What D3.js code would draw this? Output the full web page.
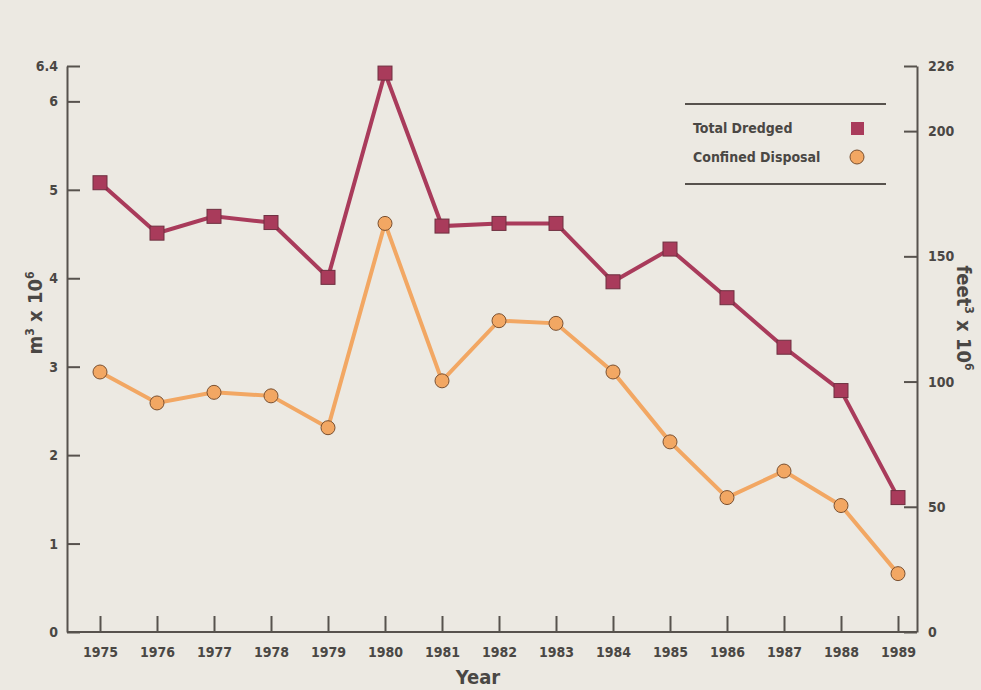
<!DOCTYPE html>
<html>
<head>
<meta charset="utf-8">
<script src="https://cdn.jsdelivr.net/npm/d3@7"></script>
<style>
  html, body { margin: 0; padding: 0; background: #ece9e2; }
  svg text { font-family: "Liberation Sans Narrow", "DejaVu Sans Condensed", "DejaVu Sans", sans-serif; font-stretch: condensed; font-weight: bold; fill: #4a4744; }
</style>
</head>
<body>
<div id="chart"></div>
<script>
const years = [1975, 1976, 1977, 1978, 1979, 1980, 1981, 1982, 1983, 1984, 1985, 1986, 1987, 1988, 1989];
const totalDredged = [5.08, 4.51, 4.70, 4.63, 4.01, 6.32, 4.59, 4.62, 4.62, 3.96, 4.33, 3.78, 3.22, 2.73, 1.52];
const confinedDisposal = [2.94, 2.59, 2.71, 2.67, 2.31, 4.62, 2.84, 3.52, 3.49, 2.94, 2.15, 1.52, 1.82, 1.43, 0.66];
const leftTicks = [0, 1, 2, 3, 4, 5, 6, 6.4];
const rightTicks = [0, 50, 100, 150, 200, 226];
const seriesNames = ['Total Dredged', 'Confined Disposal'];

const width = 981, height = 690;
const axisColor = '#57524d';
const red = '#a93b5b', orange = '#f2a763';

const svg = d3.select('#chart').append('svg').attr('width', width).attr('height', height);
svg.append('rect').attr('width', width).attr('height', height).attr('fill', '#ece9e2');

const x = d3.scaleLinear().domain([1975, 1989]).range([100, 898]);
const y = d3.scaleLinear().domain([0, 6.4]).range([632, 66]);
const y2 = d3.scaleLinear().domain([0, 226]).range([632, 66]);

// bottom axis (ticks point up)
const xAxis = d3.axisBottom(x).tickValues(years).tickFormat(d3.format('d')).tickSizeInner(-16).tickSizeOuter(0).tickPadding(15);
const gx = svg.append('g').attr('transform', 'translate(0,632)').call(xAxis);
gx.select('.domain').attr('d', 'M67,0H917');

// left axis (ticks point right)
const yAxis = d3.axisLeft(y).tickValues(leftTicks).tickFormat(d => d === 6.4 ? '6.4' : d).tickSizeInner(-13).tickSizeOuter(0).tickPadding(9);
const gy = svg.append('g').attr('transform', 'translate(67,0)').call(yAxis);

// right axis (ticks point left)
const yAxis2 = d3.axisRight(y2).tickValues(rightTicks).tickSizeInner(-13).tickSizeOuter(0).tickPadding(11);
const gy2 = svg.append('g').attr('transform', 'translate(917,0)').call(yAxis2);

[gx, gy, gy2].forEach(g => {
  g.selectAll('.domain').attr('stroke', axisColor).attr('stroke-width', 2);
  g.selectAll('.tick line').attr('stroke', axisColor).attr('stroke-width', 2);
  g.selectAll('.tick text').attr('font-size', 14).style('fill', '#4a4744');
});

// lines
const line = d3.line().x((d, i) => x(years[i])).y(d => y(d));
svg.append('path').datum(confinedDisposal).attr('d', line)
  .attr('fill', 'none').attr('stroke', orange).attr('stroke-width', 4);
svg.append('path').datum(totalDredged).attr('d', line)
  .attr('fill', 'none').attr('stroke', red).attr('stroke-width', 4);

// markers
svg.selectAll('.sq').data(totalDredged).enter().append('rect')
  .attr('x', (d, i) => x(years[i]) - 7).attr('y', d => y(d) - 7)
  .attr('width', 14).attr('height', 14)
  .attr('fill', red).attr('stroke', '#6e3040').attr('stroke-width', 1);
svg.selectAll('.ci').data(confinedDisposal).enter().append('circle')
  .attr('cx', (d, i) => x(years[i])).attr('cy', d => y(d)).attr('r', 7)
  .attr('fill', orange).attr('stroke', '#7a5030').attr('stroke-width', 1);

// legend
const lg = svg.append('g');
lg.append('line').attr('x1', 685).attr('x2', 886).attr('y1', 104).attr('y2', 104).attr('stroke', axisColor).attr('stroke-width', 2);
lg.append('line').attr('x1', 685).attr('x2', 886).attr('y1', 184).attr('y2', 184).attr('stroke', axisColor).attr('stroke-width', 2);
lg.append('text').attr('x', 693).attr('y', 133).attr('font-size', 14).text(seriesNames[0]);
lg.append('text').attr('x', 693).attr('y', 162).attr('font-size', 14).text(seriesNames[1]);
lg.append('rect').attr('x', 851).attr('y', 122).attr('width', 13).attr('height', 13).attr('fill', red);
lg.append('circle').attr('cx', 857).attr('cy', 157).attr('r', 7).attr('fill', orange).attr('stroke', '#7a5030').attr('stroke-width', 1);

// axis titles
const lt = svg.append('text').attr('transform', 'translate(42,313) rotate(-90)').attr('text-anchor', 'middle').attr('font-size', 20);
lt.append('tspan').text('m');
lt.append('tspan').attr('font-size', 12).attr('dy', -8).text('3');
lt.append('tspan').attr('dy', 8).text(' x 10');
lt.append('tspan').attr('font-size', 12).attr('dy', -8).text('6');

const rt = svg.append('text').attr('transform', 'translate(957,318) rotate(90)').attr('text-anchor', 'middle').attr('font-size', 20);
rt.append('tspan').text('feet');
rt.append('tspan').attr('font-size', 12).attr('dy', -8).text('3');
rt.append('tspan').attr('dy', 8).text(' x 10');
rt.append('tspan').attr('font-size', 12).attr('dy', -8).text('6');

svg.append('text').attr('x', 478).attr('y', 684).attr('text-anchor', 'middle').attr('font-size', 20).text('Year');
</script>
</body>
</html>
